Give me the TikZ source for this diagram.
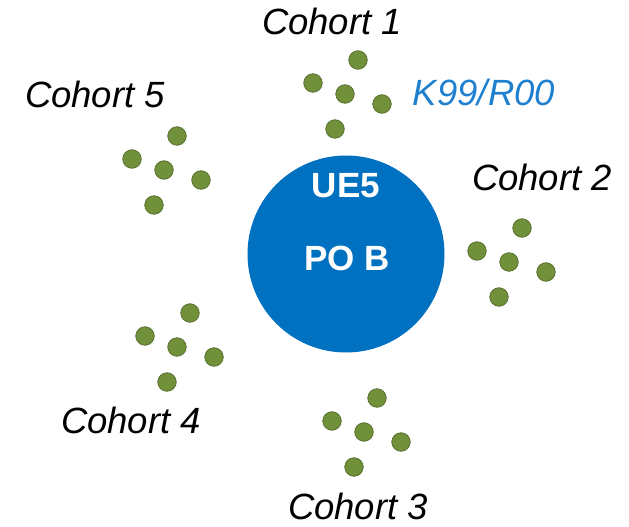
\documentclass[tikz,border=0pt]{standalone}
\usepackage{fontspec}
\setmainfont{Liberation Sans}
\usetikzlibrary{positioning}

\definecolor{poblue}{RGB}{0,112,192}
\definecolor{kblue}{RGB}{32,128,208}
\definecolor{dotgreen}{RGB}{112,144,58}
\definecolor{dotdark}{RGB}{88,112,46}

\begin{document}
\begin{tikzpicture}[x=1pt,y=-1pt,
  dot/.style={circle,fill=dotgreen,draw=dotdark,line width=0.8pt,minimum size=18.5pt,inner sep=0pt},
  cohort/.style={anchor=base,inner sep=0pt,font=\fontsize{36.5}{40}\selectfont\itshape},
  hub/.style={anchor=base,inner sep=0pt,text=white,font=\fontsize{35}{40}\selectfont\bfseries}]

\useasboundingbox (0,0) rectangle (629,527);

% hub
\path
(346,254)  node[circle,fill=poblue,minimum size=197pt,inner sep=0pt] (pob) {}
(346,197)  node[hub] (ue5) {UE5}
(347,270)  node[hub] (pobtext) {PO B}
;

% Cohort 1
\path
(345,94)   node[dot] (c1m) {}
+(13,-34)  node[dot] (c1t) {}
+(-32,-11) node[dot] (c1l) {}
+(37,10)   node[dot] (c1r) {}
+(-10,35)  node[dot] (c1b) {}
(332,35)   node[cohort] (l1) {Cohort 1}
(484,105)  node[cohort,text=kblue] (k99) {K99/R00}
;

% Cohort 2
\path
(509,262)  node[dot] (c2m) {}
+(13,-34)  node[dot] (c2t) {}
+(-32,-11) node[dot] (c2l) {}
+(37,10)   node[dot] (c2r) {}
+(-10,35)  node[dot] (c2b) {}
(542,190)  node[cohort] (l2) {Cohort 2}
;

% Cohort 3
\path
(364,432)  node[dot] (c3m) {}
+(13,-34)  node[dot] (c3t) {}
+(-32,-11) node[dot] (c3l) {}
+(37,10)   node[dot] (c3r) {}
+(-10,35)  node[dot] (c3b) {}
(358,519)  node[cohort] (l3) {Cohort 3}
;

% Cohort 4
\path
(177,347)  node[dot] (c4m) {}
+(13,-34)  node[dot] (c4t) {}
+(-32,-11) node[dot] (c4l) {}
+(37,10)   node[dot] (c4r) {}
+(-10,35)  node[dot] (c4b) {}
(131,433)  node[cohort] (l4) {Cohort 4}
;

% Cohort 5
\path
(164,170)  node[dot] (c5m) {}
+(13,-34)  node[dot] (c5t) {}
+(-32,-11) node[dot] (c5l) {}
+(37,10)   node[dot] (c5r) {}
+(-10,35)  node[dot] (c5b) {}
(95,107)   node[cohort] (l5) {Cohort 5}
;

\end{tikzpicture}
\end{document}
